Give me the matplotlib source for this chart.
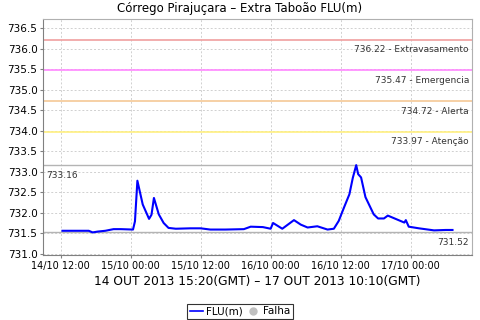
import matplotlib
matplotlib.use("Agg")
import matplotlib.pyplot as plt
import matplotlib.dates as mdates
from matplotlib.lines import Line2D
import pandas as pd

# leituras do nivel (hora local, GMT-3)
horas = [
    "2013-10-14 12:20", "2013-10-14 14:35", "2013-10-14 16:50", "2013-10-14 17:30",
    "2013-10-14 18:20", "2013-10-14 19:40", "2013-10-14 21:05", "2013-10-14 22:20",
    "2013-10-15 00:25", "2013-10-15 00:45", "2013-10-15 01:10", "2013-10-15 02:05",
    "2013-10-15 03:10", "2013-10-15 03:35", "2013-10-15 04:00", "2013-10-15 04:50",
    "2013-10-15 05:40", "2013-10-15 06:30", "2013-10-15 07:45", "2013-10-15 10:15",
    "2013-10-15 12:00", "2013-10-15 13:40", "2013-10-15 16:15", "2013-10-15 19:25",
    "2013-10-15 20:35", "2013-10-15 22:40", "2013-10-16 00:00", "2013-10-16 00:25",
    "2013-10-16 02:00", "2013-10-16 04:00", "2013-10-16 05:10", "2013-10-16 06:20",
    "2013-10-16 08:00", "2013-10-16 09:45", "2013-10-16 10:50", "2013-10-16 11:40",
    "2013-10-16 12:40", "2013-10-16 13:30", "2013-10-16 14:05", "2013-10-16 14:40",
    "2013-10-16 15:00", "2013-10-16 15:30", "2013-10-16 16:15", "2013-10-16 17:40",
    "2013-10-16 18:25", "2013-10-16 19:25", "2013-10-16 20:05", "2013-10-16 21:45",
    "2013-10-16 22:55", "2013-10-16 23:10", "2013-10-16 23:40", "2013-10-17 01:25",
    "2013-10-17 04:00", "2013-10-17 06:00", "2013-10-17 07:10",
]
nivel = [
    731.56, 731.56, 731.56, 731.52,
    731.54, 731.56, 731.60, 731.60,
    731.59, 731.79, 732.78, 732.20,
    731.85, 731.95, 732.36, 731.96,
    731.75, 731.63, 731.61, 731.62,
    731.62, 731.59, 731.59, 731.60,
    731.66, 731.65, 731.61, 731.75,
    731.61, 731.82, 731.71, 731.64,
    731.67, 731.59, 731.61, 731.80,
    732.16, 732.45, 732.85, 733.16,
    732.94, 732.86, 732.38, 731.96,
    731.86, 731.86, 731.93, 731.83,
    731.76, 731.82, 731.66, 731.62,
    731.57, 731.58, 731.58,
]

cotas = [736.22, 735.47, 734.72, 733.97]
nomes_cotas = ["Extravasamento", "Emergencia", "Alerta", "Atenção"]
cores_cotas = ["#f0a0a0", "#ff88ff", "#f5c896", "#fff080"]

maximo = 733.16
minimo = 731.52

titulo = "Córrego Pirajuçara – Extra Taboão FLU(m)"
periodo = "14 OUT 2013 15:20(GMT) – 17 OUT 2013 10:10(GMT)"

t = pd.to_datetime(horas)

fig = plt.figure(figsize=(4.8, 3.2), dpi=100)
ax = fig.add_axes([43/480, 1-255/320, 429/480, 236/320])

for c, nome, cor in zip(cotas, nomes_cotas, cores_cotas):
    ax.axhline(c, color=cor, lw=1.2, zorder=2)
    ax.annotate(f"{c:.2f} - {nome}", xy=(0.993, c), xycoords=("axes fraction", "data"),
                xytext=(0, -4), textcoords="offset points", ha="right", va="top",
                fontsize=6.5, color="#333333")

ax.axhline(maximo, color="#b4b4b4", lw=1, zorder=2)
ax.annotate(f"{maximo:.2f}", xy=(0.008, maximo), xycoords=("axes fraction", "data"),
            xytext=(0, -4), textcoords="offset points", ha="left", va="top",
            fontsize=6.5, color="#333333")
ax.axhline(minimo, color="#b4b4b4", lw=1, zorder=2)
ax.annotate(f"{minimo:.2f}", xy=(0.993, minimo), xycoords=("axes fraction", "data"),
            xytext=(0, -4), textcoords="offset points", ha="right", va="top",
            fontsize=6.5, color="#333333")

ax.plot(t, nivel, color="#0000ff", lw=1.5, zorder=3)

ax.set_ylim(730.97, 736.72)
ax.set_yticks([731.0 + 0.5*i for i in range(12)])
ax.yaxis.set_major_formatter(matplotlib.ticker.FormatStrFormatter("%.1f"))
ax.margins(x=0.05)
ax.xaxis.set_major_locator(mdates.HourLocator(byhour=[0, 12]))
ax.xaxis.set_major_formatter(mdates.DateFormatter("%d/%m %H:%M"))

ax.grid(True, color="#d0d0d0", ls=(0, (2, 2)), lw=0.7)
ax.set_axisbelow(True)
for s in ax.spines.values():
    s.set_color("#b0b0b0")
ax.spines["left"].set_color("#808080")
ax.spines["bottom"].set_color("#808080")
ax.tick_params(axis="y", labelsize=7.5, length=2, color="#808080", pad=2)
ax.tick_params(axis="x", labelsize=7, length=2, color="#808080", pad=2)

ax.set_xlabel(periodo, fontsize=8.8, labelpad=3)
fig.text(0.5, 0.972, titulo, ha="center", va="center", fontsize=8.5)

handles = [Line2D([], [], color="#0000ff", lw=1.2),
           Line2D([], [], ls="none", marker="o", color="#c0c0c0", markersize=5)]
leg = fig.legend(handles, ["FLU(m)", "Falha"], loc="center", bbox_to_anchor=(0.5, 0.027),
                 ncol=2, fontsize=7.5, frameon=True, fancybox=False, handlelength=1.3,
                 handletextpad=0.3, columnspacing=0.3, borderpad=0.25, borderaxespad=0)
leg.get_frame().set_edgecolor("black")
leg.get_frame().set_linewidth(0.8)

fig.savefig("out.png", dpi=100)
